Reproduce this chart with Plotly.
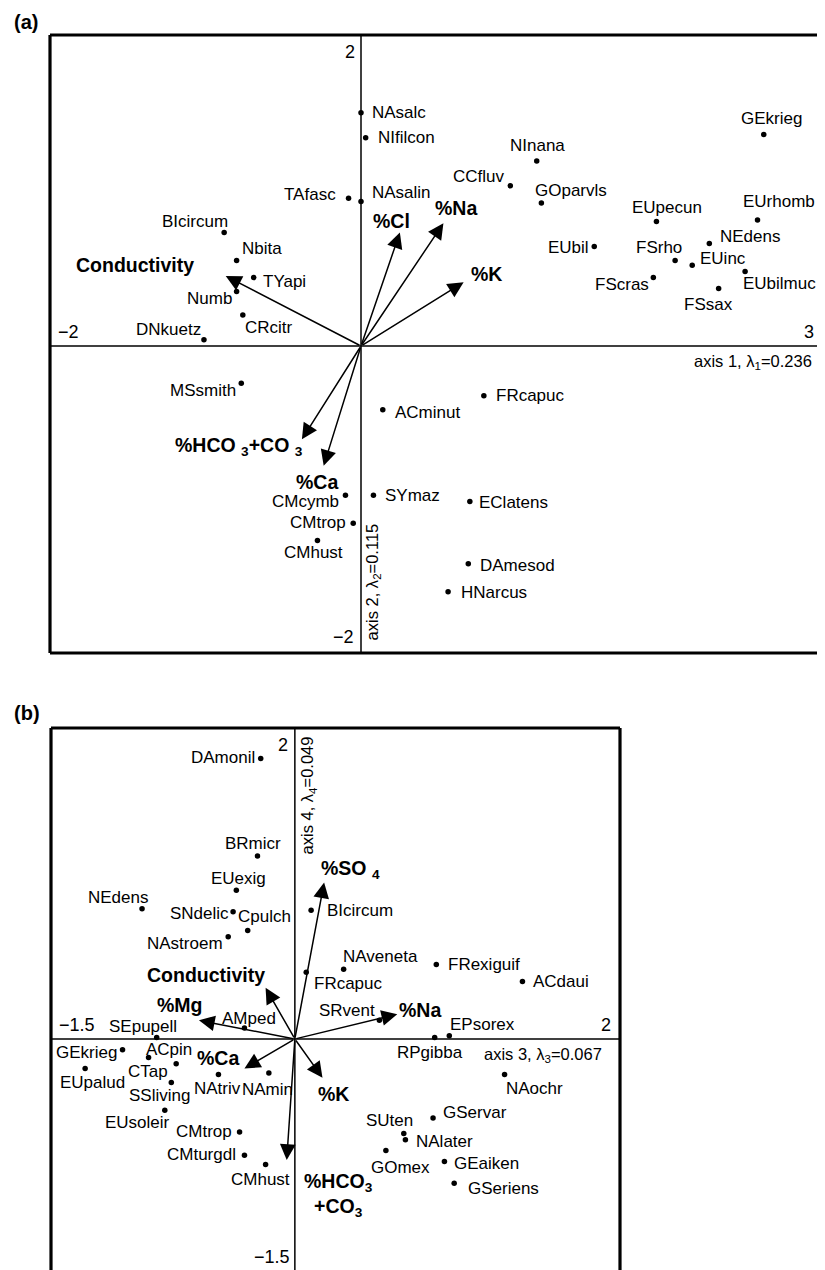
import plotly.graph_objects as go

# ---------------- data: panel (a) ----------------
a_species = ["NAsalc", "NIfilcon", "TAfasc", "NAsalin", "BIcircum", "Nbita", "TYapi", "Numb",
             "CRcitr", "DNkuetz", "MSsmith", "CMcymb", "CMtrop", "CMhust", "ACminut", "SYmaz",
             "FRcapuc", "EClatens", "DAmesod", "HNarcus", "NInana", "CCfluv", "GOparvls", "EUbil",
             "EUpecun", "GEkrieg", "EUrhomb", "NEdens", "FSrho", "EUinc", "EUbilmuc", "FScras", "FSsax"]
a_x = [0.00, 0.03, -0.08, 0.00, -0.88, -0.80, -0.69, -0.80,
       -0.76, -1.01, -0.77, -0.10, -0.05, -0.28, 0.14, 0.08,
       0.79, 0.70, 0.69, 0.56, 1.13, 0.96, 1.16, 1.50,
       1.90, 2.59, 2.55, 2.24, 2.02, 2.13, 2.47, 1.88, 2.30]
a_y = [1.50, 1.34, 0.95, 0.93, 0.73, 0.55, 0.44, 0.35,
       0.20, 0.04, -0.24, -0.96, -1.14, -1.25, -0.41, -0.96,
       -0.32, -1.00, -1.40, -1.58, 1.19, 1.03, 0.92, 0.64,
       0.80, 1.36, 0.81, 0.66, 0.55, 0.52, 0.48, 0.44, 0.37]
a_vars = ["Conductivity", "%Cl", "%Na", "%K", "%HCO <sub>3</sub>+CO <sub>3</sub>", "%Ca"]
a_vx = [-0.87, 0.25, 0.53, 0.66, -0.38, -0.24]
a_vy = [0.45, 0.73, 0.79, 0.41, -0.60, -0.77]

# ---------------- data: panel (b) ----------------
b_species = ["DAmonil", "BRmicr", "EUexig", "NEdens", "SNdelic", "Cpulch", "NAstroem", "BIcircum",
             "NAveneta", "FRexiguif", "ACdaui", "FRcapuc", "SRvent", "RPgibba", "EPsorex", "NAochr",
             "GServar", "SUten", "NAlater", "GOmex", "GEaiken", "GSeriens", "AMped", "SEpupell",
             "GEkrieg", "ACpin", "EUpalud", "CTap", "SSliving", "NAtriv", "NAmin", "EUsoleir",
             "CMtrop", "CMturgdl", "CMhust"]
b_x = [-0.21, -0.23, -0.36, -0.94, -0.38, -0.29, -0.41, 0.10,
       0.30, 0.87, 1.40, 0.07, 0.52, 0.86, 0.95, 1.29,
       0.85, 0.67, 0.68, 0.56, 0.92, 0.98, -0.31, -0.85,
       -1.06, -0.90, -1.29, -0.73, -0.76, -0.47, -0.16, -0.80,
       -0.34, -0.31, -0.18]
b_y = [1.81, 1.18, 0.96, 0.84, 0.82, 0.70, 0.66, 0.83,
       0.45, 0.48, 0.37, 0.43, 0.12, 0.01, 0.02, -0.23,
       -0.51, -0.61, -0.65, -0.72, -0.79, -0.93, 0.07, 0.01,
       -0.07, -0.12, -0.19, -0.16, -0.28, -0.23, -0.22, -0.46,
       -0.60, -0.75, -0.81]
b_vars = ["%SO <sub>4</sub>", "Conductivity", "%Mg", "%Ca", "%Na", "%K", "%HCO<sub>3</sub><br>+CO<sub>3</sub>"]
b_vx = [0.18, -0.18, -0.59, -0.31, 0.63, 0.17, -0.05]
b_vy = [1.01, 0.33, 0.12, -0.19, 0.16, -0.25, -0.78]

# ---------------- label placement (style) ----------------
# (anchor, dx, dy) in pixels relative to the point; dy positive = down
a_lab = {
    "NAsalc": ("l", 9, 0), "NIfilcon": ("l", 10, 0), "TAfasc": ("r", -11, -4), "NAsalin": ("l", 9, -9),
    "BIcircum": ("r", 6, -11), "Nbita": ("l", 3, -12), "TYapi": ("l", 7, 4), "Numb": ("r", -3, 7),
    "CRcitr": ("l", 0, 13), "DNkuetz": ("r", -1, -10), "MSsmith": ("r", -3, 7), "CMcymb": ("r", -4, 6),
    "CMtrop": ("r", -5, -1), "CMhust": ("c", -4, 12), "ACminut": ("l", 10, 3), "SYmaz": ("l", 10, 0),
    "FRcapuc": ("l", 10, 0), "EClatens": ("l", 7, 1), "DAmesod": ("l", 10, 2), "HNarcus": ("l", 11, 1),
    "NInana": ("c", 1, -15), "CCfluv": ("r", -3, -9), "GOparvls": ("l", -8, -12), "EUbil": ("r", -3, 1),
    "EUpecun": ("c", 11, -14), "GEkrieg": ("c", 8, -16), "EUrhomb": ("c", 21, -19), "NEdens": ("l", 9, -7),
    "FSrho": ("c", -16, -13), "EUinc": ("l", 6, -7), "EUbilmuc": ("l", -4, 12), "FScras": ("r", -2, 7),
    "FSsax": ("c", -10, 16),
}
a_vlab = [("r", -30, -11), ("c", -8, -12), ("c", 13, -15), ("l", 5, -8), ("r", 3, 7), ("c", -7, 16)]

b_lab = {
    "DAmonil": ("r", -4, -1), "BRmicr": ("c", -4, -13), "EUexig": ("c", 2, -12), "NEdens": ("c", -24, -11),
    "SNdelic": ("r", -2, 2), "Cpulch": ("c", 17, -14), "NAstroem": ("r", -3, 7), "BIcircum": ("l", 14, 0),
    "NAveneta": ("l", -3, -13), "FRexiguif": ("l", 10, 0), "ACdaui": ("l", 9, 0), "FRcapuc": ("l", 6, 11),
    "SRvent": ("r", -2, -10), "RPgibba": ("c", -5, 15), "EPsorex": ("l", -1, -11), "NAochr": ("l", -1, 14),
    "GServar": ("l", 8, -6), "SUten": ("c", -14, -13), "NAlater": ("l", 9, 2), "GOmex": ("c", 15, 17),
    "GEaiken": ("l", 8, 2), "GSeriens": ("l", 12, 5), "AMped": ("c", 5, -10), "SEpupell": ("c", -14, -11),
    "GEkrieg": ("r", -4, 3), "ACpin": ("l", -5, -8), "EUpalud": ("c", 7, 14), "CTap": ("r", -6, 8),
    "SSliving": ("c", -12, 13), "NAtriv": ("c", -1, 14), "NAmin": ("c", -1, 16), "EUsoleir": ("r", 7, 12),
    "CMtrop": ("r", -6, 0), "CMturgdl": ("r", -6, -1), "CMhust": ("c", -5, 15),
}
b_vlab = [("l", -5, -13), ("c", -60, -13), ("c", -19, -15), ("c", -26, -10), ("l", 0, -4), ("c", 11, 16),
          ("l", 15, 35)]

FONT = "Liberation Sans, Arial, Helvetica, sans-serif"
W, H = 825, 1270
OFF = 8  # page body margin of the html wrapper
ANCH = {"l": "left", "r": "right", "c": "center"}

fig = go.Figure()

# panel geometry (reference pixel positions shifted by the page margin)
A_XR = [-2.0, -2.0 + (W - (50 - OFF)) / 155.5]
A_YR = [-1.974, 2.0]
B_XR = [-1.5, 2.0]
B_YR = [(1039 - (H + OFF)) / 155.0, 2.006]

fig.add_trace(go.Scatter(x=a_x, y=a_y, mode="markers", xaxis="x", yaxis="y",
                         marker=dict(color="black", size=5.5), hoverinfo="text", text=a_species,
                         showlegend=False, cliponaxis=False))
fig.add_trace(go.Scatter(x=b_x, y=b_y, mode="markers", xaxis="x2", yaxis="y2",
                         marker=dict(color="black", size=5.5), hoverinfo="text", text=b_species,
                         showlegend=False, cliponaxis=False))

ann = []
shapes = []


def label(xr, yr, x, y, text, spec, size=17, bold=False):
    anc, dx, dy = spec
    t = f"<b>{text}</b>" if bold else text
    ann.append(dict(x=x, y=y, xref=xr, yref=yr, text=t, showarrow=False,
                    xanchor=ANCH[anc], yanchor="middle", xshift=dx, yshift=-dy,
                    font=dict(family=FONT, size=size, color="black")))


def arrow(xr, yr, x, y):
    ann.append(dict(x=x, y=y, ax=0, ay=0, xref=xr, yref=yr, axref=xr, ayref=yr, text="",
                    showarrow=True, arrowhead=2, arrowsize=2.1, arrowwidth=1.5,
                    arrowcolor="black", standoff=0, startstandoff=0,
                    font=dict(family=FONT, size=12, color="black")))


for n, x, y in zip(a_species, a_x, a_y):
    label("x", "y", x, y, n, a_lab[n])
for n, x, y, s in zip(a_vars, a_vx, a_vy, a_vlab):
    arrow("x", "y", x, y)
    label("x", "y", x, y, n, s, size=19.5, bold=True)

for n, x, y in zip(b_species, b_x, b_y):
    label("x2", "y2", x, y, n, b_lab[n])
for n, x, y, s in zip(b_vars, b_vx, b_vy, b_vlab):
    arrow("x2", "y2", x, y)
    label("x2", "y2", x, y, n, s, size=19.5, bold=True)


def txt(xr, yr, x, y, text, xa, ya, xs, ys, size=18, angle=0):
    ann.append(dict(x=x, y=y, xref=xr, yref=yr, text=text, showarrow=False, xanchor=xa, yanchor=ya,
                    xshift=xs, yshift=ys, textangle=angle,
                    font=dict(family=FONT, size=size, color="black")))


# tick-like labels panel (a)
txt("x", "y", 0, A_YR[1], "2", "right", "top", -4, -5)
txt("x", "y", A_XR[0], 0, "\u22122", "left", "bottom", 6, 2)
txt("x", "y", 3, 0, "3", "right", "bottom", -12, 2)
txt("x", "y", 0, A_YR[0], "\u22122", "right", "bottom", -5, 4)
txt("x", "y", 3, 0, "axis 1, \u03bb<sub>1</sub>=0.236", "right", "top", -14, -4, size=16.5)
txt("x", "y", 0, -1.52, "axis 2, \u03bb<sub>2</sub>=0.115", "center", "middle", 12, 0, size=16.5, angle=-90)
# tick-like labels panel (b)
txt("x2", "y2", 0, B_YR[1], "2", "right", "top", -5, -5)
txt("x2", "y2", B_XR[0], 0, "\u22121.5", "left", "bottom", 6, 2)
txt("x2", "y2", B_XR[1], 0, "2", "right", "bottom", -7, 2)
txt("x2", "y2", 0, -1.5, "\u22121.5", "right", "bottom", -3, 3)
txt("x2", "y2", B_XR[1], 0, "axis 3, \u03bb<sub>3</sub>=0.067", "right", "top", -16, -4, size=16.5)
txt("x2", "y2", 0, 1.57, "axis 4, \u03bb<sub>4</sub>=0.049", "center", "middle", 13, 0, size=16.5, angle=-90)

# panel letters
ann.append(dict(x=(12 - OFF) / W, y=1 - (22 - OFF) / H, xref="paper", yref="paper", text="<b>(a)</b>",
                showarrow=False, xanchor="left", yanchor="middle",
                font=dict(family=FONT, size=20, color="black")))
ann.append(dict(x=(12 - OFF) / W, y=1 - (713 - OFF) / H, xref="paper", yref="paper", text="<b>(b)</b>",
                showarrow=False, xanchor="left", yanchor="middle",
                font=dict(family=FONT, size=20, color="black")))


# frames (thick) and centre axes (thin)
def seg(xr, yr, x0, y0, x1, y1, w):
    shapes.append(dict(type="line", xref=xr, yref=yr, x0=x0, y0=y0, x1=x1, y1=y1,
                       line=dict(color="black", width=w), layer="below"))


seg("x domain", "y domain", 0, 0, 0, 1, 3.2)
seg("x domain", "y domain", 0, 1, 1.0, 1, 3.2)
seg("x domain", "y domain", 0, 0, 1.0, 0, 3.2)
seg("x", "y domain", 0, 0, 0, 1, 1.5)
seg("x domain", "y", 0, 0, 1, 0, 1.5)

seg("x2 domain", "y2 domain", 0, 0, 0, 1, 3.2)
seg("x2 domain", "y2 domain", 0, 1, 1, 1, 3.2)
seg("x2 domain", "y2 domain", 1, 0, 1, 1, 3.2)
seg("x2", "y2 domain", 0, 0, 0, 1, 1.5)
seg("x2 domain", "y2", 0, 0, 1, 0, 1.5)

ax_common = dict(visible=False, showgrid=False, zeroline=False, fixedrange=True)
fig.update_layout(
    width=W, height=H, autosize=False,
    margin=dict(l=0, r=0, t=0, b=0),
    paper_bgcolor="white", plot_bgcolor="white",
    xaxis=dict(domain=[(50 - OFF) / W, 1.0], range=A_XR, anchor="y", **ax_common),
    yaxis=dict(domain=[(H - (653 - OFF)) / H, (H - (35 - OFF)) / H], range=A_YR, anchor="x", **ax_common),
    xaxis2=dict(domain=[(51 - OFF) / W, (620 - OFF) / W], range=B_XR, anchor="y2", **ax_common),
    yaxis2=dict(domain=[0.0, (H - (728 - OFF)) / H], range=B_YR, anchor="x2", **ax_common),
    annotations=ann, shapes=shapes, showlegend=False,
)

fig.write_html("out.html")
